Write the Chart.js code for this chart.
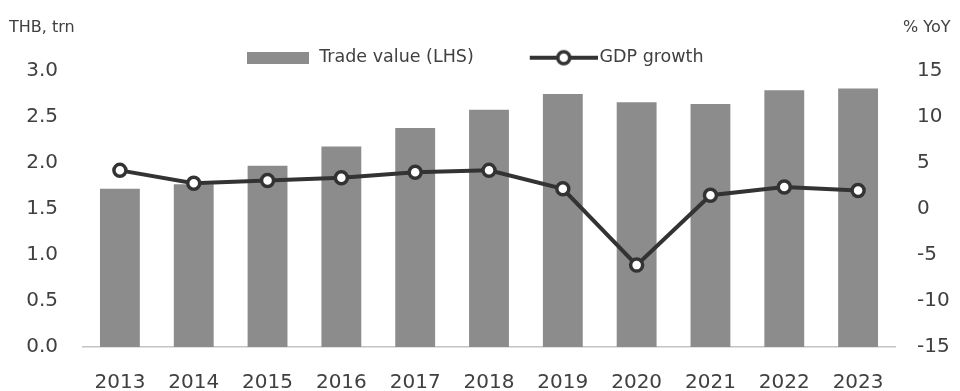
<!DOCTYPE html>
<html lang="en">
<head>
    <meta charset="UTF-8">
    <title>Trade value and GDP growth</title>
    <script src="https://cdn.jsdelivr.net/npm/chart.js"></script>
    <style>
        body { margin: 0; background: #fff; }
        #wrap { position: relative; width: 960px; height: 391px; }
        .unit { position: absolute; top: 17px; font: 16px "DejaVu Sans", sans-serif; color: #404040; }
    </style>
</head>
<body>
    <div id="wrap">
        <canvas id="chart" width="960" height="391"></canvas>
        <div class="unit" style="left:9px">THB, trn</div>
        <div class="unit" style="left:903px">% YoY</div>
    </div>
    <script>
        // data
        var years = ['2013', '2014', '2015', '2016', '2017', '2018', '2019', '2020', '2021', '2022', '2023'];
        var tradeValue = [1.72, 1.77, 1.97, 2.18, 2.38, 2.58, 2.75, 2.66, 2.64, 2.79, 2.81];
        var gdpGrowth = [4.2, 2.8, 3.1, 3.4, 4.0, 4.2, 2.2, -6.1, 1.5, 2.4, 2.0];
        var leftTicks = [0, 0.5, 1.0, 1.5, 2.0, 2.5, 3.0];
        var rightTicks = [-15, -10, -5, 0, 5, 10, 15];

        var barColor = '#8c8c8c';
        var lineColor = '#333333';
        var textColor = '#404040';

        // legend symbols (drawn on small canvases, used as point styles)
        var barIcon = document.createElement('canvas');
        barIcon.width = 62; barIcon.height = 12;
        var bctx = barIcon.getContext('2d');
        bctx.fillStyle = barColor;
        bctx.fillRect(0, 0, 62, 12);

        var lineIcon = document.createElement('canvas');
        lineIcon.width = 78; lineIcon.height = 18;
        var lctx = lineIcon.getContext('2d');
        lctx.strokeStyle = lineColor;
        lctx.lineWidth = 4;
        lctx.beginPath(); lctx.moveTo(10, 9); lctx.lineTo(78, 9); lctx.stroke();
        lctx.fillStyle = '#fff';
        lctx.lineWidth = 3.5;
        lctx.beginPath(); lctx.arc(44, 9, 6, 0, Math.PI * 2); lctx.fill(); lctx.stroke();

        new Chart(document.getElementById('chart'), {
            data: {
                labels: years,
                datasets: [{
                    type: 'bar',
                    label: 'Trade value (LHS)',
                    data: tradeValue,
                    backgroundColor: barColor,
                    barPercentage: 0.54,
                    categoryPercentage: 1,
                    yAxisID: 'y',
                    order: 2
                }, {
                    type: 'line',
                    label: 'GDP growth',
                    data: gdpGrowth,
                    borderColor: lineColor,
                    borderWidth: 4,
                    pointRadius: 6,
                    pointBorderWidth: 3.5,
                    pointBackgroundColor: '#fff',
                    pointBorderColor: lineColor,
                    tension: 0,
                    yAxisID: 'y1',
                    order: 1
                }]
            },
            options: {
                responsive: false,
                animation: false,
                layout: { padding: { top: -4, right: 10 } },
                plugins: {
                    tooltip: { enabled: false },
                    legend: {
                        position: 'top',
                        maxHeight: 75,
                        labels: {
                            usePointStyle: true,
                            pointStyleWidth: 64,
                            padding: 53,
                            color: textColor,
                            font: { family: 'DejaVu Sans', size: 17.5 },
                            generateLabels: function (chart) {
                                return [
                                    { text: 'Trade value (LHS)', pointStyle: barIcon, fontColor: textColor, lineWidth: 0, datasetIndex: 0 },
                                    { text: 'GDP growth', pointStyle: lineIcon, fontColor: textColor, lineWidth: 0, datasetIndex: 1 }
                                ];
                            }
                        }
                    }
                },
                scales: {
                    x: {
                        grid: { display: false },
                        border: { display: true, color: '#c4c4c4', width: 1.5 },
                        ticks: { color: textColor, padding: 16, font: { family: 'DejaVu Sans', size: 20 } },
                        afterFit: function (s) { s.height = 44; }
                    },
                    y: {
                        position: 'left',
                        min: 0, max: 3,
                        grid: { display: false },
                        border: { display: false },
                        afterBuildTicks: function (s) { s.ticks = leftTicks.map(function (v) { return { value: v }; }); },
                        ticks: {
                            color: textColor, padding: 17,
                            font: { family: 'DejaVu Sans', size: 20 },
                            callback: function (v) { return v.toFixed(1); }
                        },
                        afterFit: function (s) { s.width = 83; }
                    },
                    y1: {
                        position: 'right',
                        min: -15, max: 15,
                        grid: { display: false },
                        border: { display: false },
                        afterBuildTicks: function (s) { s.ticks = rightTicks.map(function (v) { return { value: v }; }); },
                        ticks: {
                            color: textColor, padding: 14,
                            font: { family: 'DejaVu Sans', size: 20 }
                        },
                        afterFit: function (s) { s.width = 55; }
                    }
                }
            }
        });
    </script>
</body>
</html>
